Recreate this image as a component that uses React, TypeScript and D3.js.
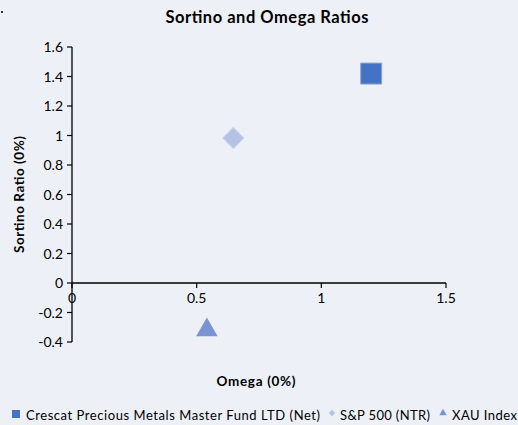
import * as d3 from "d3";

const seriesNames = ["Crescat Precious Metals Master Fund LTD (Net)", "S&P 500 (NTR)", "XAU Index"];
const omegaValues = [1.2, 0.647, 0.541];
const sortinoValues = [1.42, 0.983, -0.305];
const xTicks = [0, 0.5, 1, 1.5];
const yTicks = [-0.4, -0.2, 0, 0.2, 0.4, 0.6, 0.8, 1, 1.2, 1.4, 1.6];

const colors = ["#4472C4", "#B4C2E6", "#7A93D5"];
const font = "Lato, 'Open Sans', sans-serif";

export default function App() {
  const W = 518;
  const H = 425;
  const x = d3.scaleLinear().domain([0, 1.5]).range([72, 446]);
  const y = d3.scaleLinear().domain([-0.4, 1.6]).range([342, 47]);
  const y0 = y(0);

  // marker shapes: square, rotated square (diamond), triangle
  const markers = [
    { d: d3.symbol().type(d3.symbolSquare).size(441)()!, rot: 0, dy: 0, stroke: "#8FA6CF" },
    { d: d3.symbol().type(d3.symbolSquare).size(220)()!, rot: 45, dy: 0, stroke: "#C8D2EC" },
    { d: d3.symbol().type(d3.symbolTriangle).size(200)()!, rot: 0, dy: 2, stroke: "none" },
  ];

  return (
    <svg width={W} height={H} style={{ position: "absolute", left: 0, top: 0 }} fontFamily={font}>
      <rect width={W} height={H} fill="#EDF0F7" />
      <rect x={1} y={11} width={2} height={2} fill="#333" />
      <text x={267} y={23} textAnchor="middle" fontSize={16.5} fontWeight="bold" fill="#000" textLength={203}>Sortino and Omega Ratios</text>

      {/* y axis */}
      <line x1={x(0)} x2={x(0)} y1={y(1.6)} y2={y(-0.4)} stroke="#000" strokeWidth={1.3} />
      {yTicks.map((t) => (
        <g key={t}>
          <line x1={x(0) - 5} x2={x(0)} y1={y(t)} y2={y(t)} stroke="#000" strokeWidth={1.2} />
          <text x={x(0) - 9} y={y(t) + 5} textAnchor="end" fontSize={14} fill="#000">{t}</text>
        </g>
      ))}

      {/* x axis at zero */}
      <line x1={x(0)} x2={x(1.5)} y1={y0} y2={y0} stroke="#000" strokeWidth={1.3} />
      {xTicks.map((t) => (
        <g key={t}>
          <line x1={x(t)} x2={x(t)} y1={y0} y2={y0 + 5} stroke="#000" strokeWidth={1.2} />
          <text x={x(t)} y={y0 + 20} textAnchor="middle" fontSize={14} fill="#000">{t}</text>
        </g>
      ))}

      <text transform={`translate(24,${(y(1.6) + y(-0.4)) / 2}) rotate(-90)`} textAnchor="middle" fontSize={13.5} fontWeight="bold" fill="#000" textLength={117}>Sortino Ratio (0%)</text>
      <text x={256} y={386} textAnchor="middle" fontSize={13.5} fontWeight="bold" fill="#000" textLength={79}>Omega (0%)</text>

      {/* points */}
      {seriesNames.map((n, i) => (
        <path
          key={n}
          d={markers[i].d}
          transform={`translate(${x(omegaValues[i])},${y(sortinoValues[i]) + markers[i].dy}) rotate(${markers[i].rot})`}
          fill={colors[i]}
          stroke={markers[i].stroke}
          strokeWidth={1}
        />
      ))}

      {/* legend */}
      <rect x={12} y={410} width={8} height={8} fill={colors[0]} />
      <text x={26} y={420} fontSize={13} fill="#000" textLength={294}>{seriesNames[0]}</text>
      <path d={d3.symbol().type(d3.symbolSquare).size(20)()!} transform="translate(332,413) rotate(45)" fill={colors[1]} />
      <text x={340} y={420} fontSize={13} fill="#000" textLength={90}>{seriesNames[1]}</text>
      <path d={d3.symbol().type(d3.symbolTriangle).size(24)()!} transform="translate(443,413)" fill={colors[2]} />
      <text x={452} y={420} fontSize={13} fill="#000" textLength={65}>{seriesNames[2]}</text>
    </svg>
  );
}
